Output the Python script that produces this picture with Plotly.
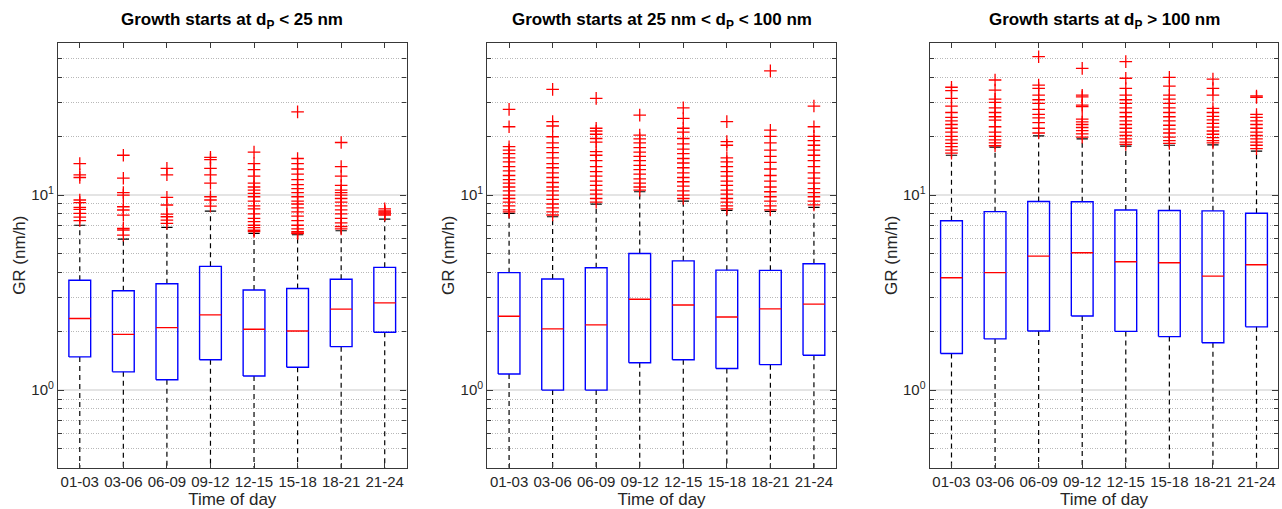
import plotly.graph_objects as go

categories = ["01-03", "03-06", "06-09", "09-12", "12-15", "15-18", "18-21", "21-24"]

titles = ["Growth starts at d<sub>P</sub> < 25 nm",
          "Growth starts at 25 nm < d<sub>P</sub> < 100 nm",
          "Growth starts at d<sub>P</sub> > 100 nm"]

# Panel 1: d_P < 25 nm
p1_q1 = [1.48, 1.24, 1.13, 1.43, 1.18, 1.31, 1.67, 1.98]
p1_med = [2.33, 1.93, 2.09, 2.43, 2.05, 2.01, 2.60, 2.80]
p1_q3 = [3.66, 3.23, 3.51, 4.31, 3.26, 3.32, 3.70, 4.26]
p1_lw = [0.2, 0.2, 0.2, 0.2, 0.2, 0.2, 0.2, 0.2]
p1_uw = [7.0, 5.95, 6.83, 8.28, 6.36, 6.26, 6.56, 7.53]
p1_out = [
    [14.5, 12.7, 12.3, 9.43, 9.14, 8.65, 8.44, 8.05, 7.7, 7.4],
    [16.0, 12.2, 10.3, 10.0, 8.71, 8.38, 7.89, 6.75, 6.62, 6.23],
    [13.7, 12.7, 9.73, 8.89, 7.99, 7.74, 7.44, 7.16],
    [15.6, 15.2, 13.7, 12.7, 11.5, 9.8, 9.43, 8.78],
    [16.6, 14.5, 13.5, 12.5, 11.5, 11.0, 10.6, 10.2, 9.8, 9.3, 8.8, 8.5, 8.0, 7.6, 7.3, 7.0, 6.8, 6.6, 6.5],
    [26.7, 15.4, 14.5, 13.6, 12.8, 12.0, 11.3, 10.8, 10.3, 9.8, 9.3, 9.0, 8.6, 8.2, 7.8, 7.4, 7.0, 6.7, 6.5, 6.4, 6.35],
    [18.6, 14.0, 12.5, 11.2, 10.6, 10.3, 10.0, 9.6, 9.2, 8.8, 8.4, 8.0, 7.6, 7.2, 6.9, 6.7],
    [8.5, 8.3, 8.2, 8.1, 8.0, 7.9],
]

# Panel 2: 25 nm < d_P < 100 nm
p2_q1 = [1.21, 1.00, 1.00, 1.38, 1.43, 1.29, 1.35, 1.51]
p2_med = [2.39, 2.06, 2.16, 2.92, 2.73, 2.37, 2.61, 2.76]
p2_q3 = [4.00, 3.71, 4.24, 5.02, 4.60, 4.12, 4.11, 4.44]
p2_lw = [0.2, 0.2, 0.2, 0.2, 0.2, 0.2, 0.2, 0.2]
p2_uw = [8.06, 7.74, 8.99, 10.4, 9.31, 8.34, 8.25, 8.65]
p2_out = [
    [27.5, 22.4, 17.7, 17.0, 16.3, 15.5, 14.8, 14.0, 13.3, 12.6, 12.0, 11.5, 11.0, 10.5, 10.0, 9.6, 9.2, 8.8, 8.4, 8.2],
    [34.8, 23.8, 22.6, 19.9, 18.5, 17.5, 16.5, 15.5, 14.5, 13.8, 13.0, 12.3, 11.6, 11.0, 10.5, 10.0, 9.5, 9.0, 8.6, 8.2, 7.9],
    [31.3, 22.0, 21.3, 20.5, 19.5, 18.7, 16.7, 16.0, 15.0, 14.0, 13.2, 12.5, 11.8, 11.2, 10.6, 10.1, 9.6, 9.2],
    [25.7, 20.3, 19.4, 18.5, 17.5, 16.6, 15.8, 15.0, 14.2, 13.5, 12.8, 12.1, 11.5, 11.0, 10.6],
    [28.0, 24.7, 22.0, 21.0, 19.5, 18.3, 17.2, 16.3, 15.4, 14.6, 13.8, 13.0, 12.3, 11.7, 11.1, 10.5, 10.0, 9.6],
    [23.8, 18.8, 18.0, 15.5, 14.8, 14.0, 13.2, 12.5, 11.8, 11.2, 10.6, 10.1, 9.6, 9.2, 8.8, 8.5],
    [43.3, 21.5, 20.0, 18.5, 17.0, 15.8, 14.7, 13.6, 12.6, 11.8, 11.0, 10.4, 9.8, 9.3, 8.8, 8.4],
    [28.6, 22.4, 20.0, 19.0, 18.0, 17.0, 16.0, 15.0, 14.0, 13.0, 12.2, 11.5, 10.8, 10.3, 9.8, 9.3, 8.9],
]

# Panel 3: d_P > 100 nm
p3_q1 = [1.54, 1.83, 2.01, 2.40, 2.00, 1.88, 1.75, 2.11]
p3_med = [3.77, 4.00, 4.86, 5.06, 4.55, 4.50, 3.84, 4.39]
p3_q3 = [7.38, 8.22, 9.27, 9.24, 8.38, 8.34, 8.30, 8.06]
p3_lw = [0.2, 0.2, 0.2, 0.2, 0.2, 0.2, 0.2, 0.2]
p3_uw = [16.0, 17.6, 20.1, 19.4, 17.8, 18.0, 18.1, 16.8]
p3_out = [
    [35.7, 34.3, 31.3, 28.6, 26.5, 25.0, 24.0, 23.0, 22.0, 21.0, 20.0, 19.2, 18.4, 17.7, 17.0, 16.4],
    [38.9, 34.5, 31.0, 29.9, 28.0, 26.5, 25.2, 24.2, 22.4, 21.0, 20.0, 19.2, 18.5, 17.9],
    [51.2, 36.6, 35.2, 32.5, 30.8, 29.5, 27.5, 25.9, 24.9, 23.5, 22.0, 20.8],
    [44.6, 32.5, 31.9, 28.9, 28.4, 24.5, 23.7, 23.0, 22.2, 21.4, 20.6, 19.8],
    [48.3, 39.7, 35.2, 32.5, 30.8, 29.5, 28.0, 26.5, 25.2, 24.0, 23.0, 22.0, 21.0, 20.2, 19.4, 18.7, 18.2],
    [40.1, 36.2, 32.5, 31.0, 29.5, 28.0, 26.5, 25.2, 24.0, 22.8, 21.8, 20.8, 19.8, 19.0, 18.4],
    [39.3, 35.2, 32.5, 27.8, 26.5, 25.3, 24.3, 23.3, 22.3, 21.3, 20.5, 19.7, 19.0, 18.5],
    [32.2, 31.7, 25.9, 25.0, 24.0, 23.0, 22.0, 21.0, 20.2, 19.4, 18.7, 18.0, 17.3],
]

panels = [
    (p1_q1, p1_med, p1_q3, p1_lw, p1_uw, p1_out),
    (p2_q1, p2_med, p2_q3, p2_lw, p2_uw, p2_out),
    (p3_q1, p3_med, p3_q3, p3_lw, p3_uw, p3_out),
]

W, H = 1282, 509
x_doms = [(58.0, 406.5), (487.3, 835.7), (929.7, 1278.3)]
y_dom = ((H - 467.7) / H, (H - 42.7) / H)
BOX_HW = 0.25
CAP_HW = 0.13
FONT = "Liberation Sans, Arial, Helvetica"

fig = go.Figure()
for p, (q1, med, q3, lw, uw, outs) in enumerate(panels):
    xa = "x" if p == 0 else f"x{p+1}"
    ya = "y" if p == 0 else f"y{p+1}"
    wx, wy, cx, cy, bx, by, mx, my, ox, oy = [], [], [], [], [], [], [], [], [], []
    for i in range(len(categories)):
        x = i + 1
        wx += [x, x, None, x, x, None]
        wy += [q3[i], uw[i], None, q1[i], lw[i], None]
        cx += [x - CAP_HW, x + CAP_HW, None, x - CAP_HW, x + CAP_HW, None]
        cy += [uw[i], uw[i], None, lw[i], lw[i], None]
        bx += [x - BOX_HW, x + BOX_HW, x + BOX_HW, x - BOX_HW, x - BOX_HW, None]
        by += [q1[i], q1[i], q3[i], q3[i], q1[i], None]
        mx += [x - BOX_HW, x + BOX_HW, None]
        my += [med[i], med[i], None]
        ox += [x] * len(outs[i])
        oy += outs[i]
    common = dict(xaxis=xa, yaxis=ya, showlegend=False, hoverinfo="skip")
    fig.add_trace(go.Scatter(x=wx, y=wy, mode="lines",
                             line=dict(color="black", width=1.2, dash="5px,4px"), **common))
    fig.add_trace(go.Scatter(x=cx, y=cy, mode="lines",
                             line=dict(color="black", width=1.2), **common))
    fig.add_trace(go.Scatter(x=bx, y=by, mode="lines",
                             line=dict(color="#0000ff", width=1.4), **common))
    fig.add_trace(go.Scatter(x=mx, y=my, mode="lines",
                             line=dict(color="#ff0000", width=1.4), **common))
    fig.add_trace(go.Scatter(x=ox, y=oy, mode="markers",
                             marker=dict(symbol="cross-thin", size=9, color="#ff0000",
                                         line=dict(color="#ff0000", width=1.3)), **common))

    dom = (x_doms[p][0] / W, x_doms[p][1] / W)
    axis_common = dict(showline=True, linecolor="#383838", linewidth=1.3, mirror="ticks",
                       ticks="inside", tickcolor="#383838", zeroline=False, automargin=False,
                       tickfont=dict(family=FONT, size=15, color="#262626"))
    fig.layout[("xaxis" if p == 0 else f"xaxis{p+1}")] = dict(
        domain=dom, anchor=ya, range=[0.5, 8.5],
        tickmode="array", tickvals=list(range(1, 9)), ticktext=categories,
        ticklen=5, showgrid=False,
        title=dict(text="Time of day", font=dict(family=FONT, size=17, color="#262626"),
                   standoff=0),
        **axis_common)
    fig.layout[("yaxis" if p == 0 else f"yaxis{p+1}")] = dict(
        domain=y_dom, anchor=xa, type="log", range=[-0.39794, 1.77815 + 0.003],
        tickmode="array", tickvals=[1, 10], ticktext=["10<sup>0</sup>", "10<sup>1</sup>"],
        ticklen=6, showgrid=True, gridcolor="#e4e4e4", gridwidth=1.6,
        minor=dict(tickvals=[0.5, 0.6, 0.7, 0.8, 0.9, 2, 3, 4, 5, 6, 7, 8, 9, 20, 30, 40, 50],
                   ticks="inside", ticklen=4, tickcolor="#383838",
                   showgrid=True, gridcolor="#b8b8b8", griddash="1px,1.5px", gridwidth=1),
        title=dict(text="GR (nm/h)", font=dict(family=FONT, size=17, color="#262626"),
                   standoff=1),
        **axis_common)
    fig.add_annotation(text="<b>" + titles[p] + "</b>", xref="paper", yref="paper",
                       x=(dom[0] + dom[1]) / 2, y=(H - 21) / H, xanchor="center", yanchor="middle",
                       showarrow=False, font=dict(family=FONT, size=17, color="black"))

fig.update_layout(width=W, height=H, margin=dict(l=0, r=0, t=0, b=0),
                  paper_bgcolor="white", plot_bgcolor="white")
fig.write_html("out.html", config={"displayModeBar": False})

with open("out.html", "r", encoding="utf-8") as f:
    html = f.read()
html = html.replace("<head>", "<head><style>html,body{margin:0;padding:0;overflow:hidden;}</style>", 1)
with open("out.html", "w", encoding="utf-8") as f:
    f.write(html)
